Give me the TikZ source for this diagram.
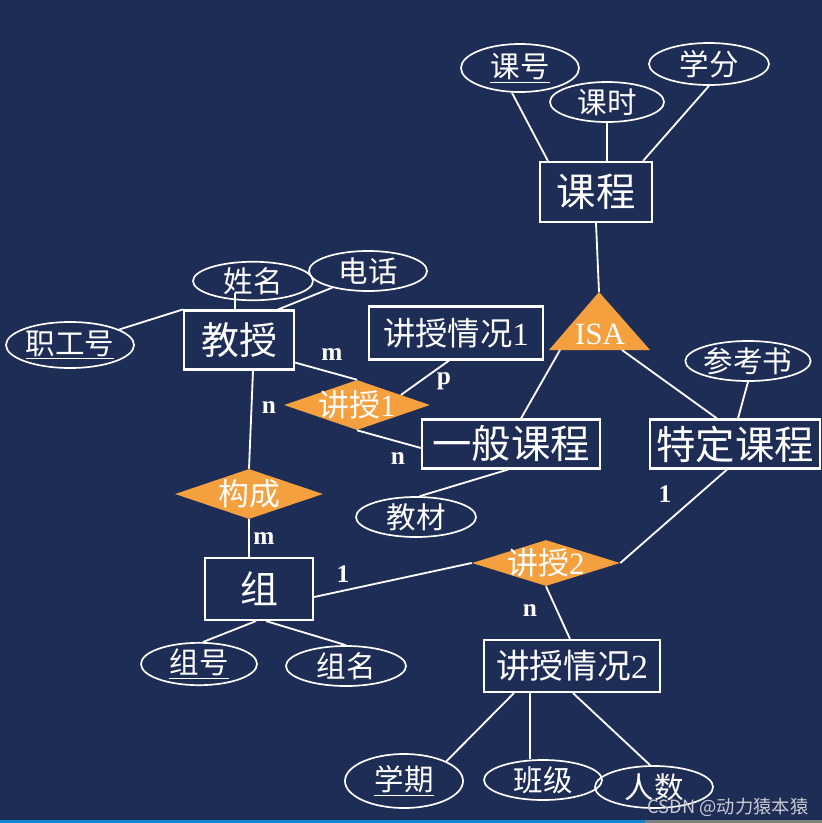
\documentclass[tikz,border=0pt]{standalone}
\usepackage{fontspec}
\setmainfont{Liberation Serif}
\newfontfamily\cjk{Noto Sans CJK SC}
\usetikzlibrary{shapes.geometric}
\usetikzlibrary{calc}
\definecolor{bgnavy}{RGB}{30,45,86}
\definecolor{relorange}{RGB}{245,160,62}
\definecolor{markgray}{RGB}{200,202,212}
\tikzset{
  entity/.style={draw=white, line width=1.5pt, text=white, inner sep=0pt,
    font=\cjk\fontsize{27}{27}\selectfont},
  attrib/.style={ellipse, draw=white, line width=1.2pt, text=white, inner sep=0pt,
    minimum width=2.95cm, minimum height=1cm, font=\cjk\fontsize{21}{21}\selectfont},
  relship/.style={diamond, fill=relorange, text=white, inner sep=-0.2cm, aspect=3,
    minimum width=3.7cm, minimum height=1.25cm, font=\cjk\fontsize{22}{22}\selectfont},
  card/.style={text=white, inner sep=0pt, font=\bfseries\fontsize{18}{18}\selectfont},
  link/.style={white, line width=1.3pt}
}
\begin{document}
\begin{tikzpicture}[x=0.025cm, y=-0.025cm]
\fill[bgnavy] (0,0) rectangle (822,823);
\useasboundingbox (0,0) rectangle (822,823);
\fill[cyan!70!blue] (0,820) rectangle (645,823);
\fill[gray] (645,820) rectangle (822,823);

% entities
\node [entity, minimum width=2.8cm, minimum height=1.5cm, font=\cjk\fontsize{28}{28}\selectfont] (kecheng) at (596,192) {课程};
\node [entity, minimum width=2.75cm, minimum height=1.475cm] (jiaoshou) at (239,340) {教授};
\node [entity, minimum width=4.35cm, minimum height=1.325cm, font=\cjk\fontsize{23}{23}\selectfont] (qk1) at (456,333) {讲授情况{\rmfamily 1}};
\node [entity, minimum width=4.45cm, minimum height=1.225cm, font=\cjk\fontsize{28}{28}\selectfont] (yiban) at (511,444) {一般课程};
\node [entity, minimum width=4.25cm, minimum height=1.225cm, font=\cjk\fontsize{28}{28}\selectfont] (teding) at (735,444) {特定课程};
\node [entity, minimum width=2.7cm, minimum height=1.55cm] (zu) at (259,589) {组};
\node [entity, minimum width=4.4cm, minimum height=1.3cm, font=\cjk\fontsize{24}{24}\selectfont] (qk2) at (572,666) {讲授情况{\rmfamily 2}};

% attributes
\node [attrib, minimum height=1.2cm] (kehao) at (520,68) {\underline{课号}};
\node [attrib, minimum width=2.85cm] (keshi) at (607,102) {课时};
\node [attrib, minimum width=3cm, minimum height=1.05cm] (xuefen) at (709,64) {学分};
\node [attrib, minimum width=3cm, minimum height=0.95cm] (xingming) at (253,281) {姓名};
\node [attrib] (dianhua) at (368,271) {电话};
\node [attrib, minimum width=3.2cm, minimum height=1.15cm] (zhigonghao) at (70,345) {\underline{职工号}};
\node [attrib, minimum width=2.9cm] (cankaoshu) at (748,361) {参考书};
\node [attrib, minimum width=3cm] (jiaocai) at (416,517) {教材};
\node [attrib, minimum width=2.9cm] (zuhao) at (199,664) {\underline{组号}};
\node [attrib, minimum width=3cm] (zuming) at (346,666) {组名};
\node [attrib, minimum height=1.35cm] (xueqi) at (404,781) {\underline{学期}};
\node [attrib] (banji) at (543,780) {班级};
\node [attrib, minimum height=1.05cm] (renshu) at (654,787) {人数};

% relationships
\node [relship, minimum width=3.65cm] (js1) at (357,405) {讲授{\rmfamily 1}};
\node [relship] (goucheng) at (249,494) {构成};
\node [relship, minimum height=1.15cm] (js2) at (546,563) {讲授{\rmfamily 2}};

% ISA triangle
\coordinate (isaA) at (599,292);
\coordinate (isaB) at (650,350);
\coordinate (isaC) at (549,350);
\fill[relorange] (isaA) -- (isaB) -- (isaC) -- cycle;
\node [text=white, inner sep=0pt, font=\fontsize{22}{22}\selectfont] (isa) at (600,334) {ISA};
\coordinate (isaL) at (560,350);
\coordinate (isaR) at (622,350);

% links
\draw [link] ($(kehao.south)+(-8,0)$) -- ($(kecheng.north west)+(9,0)$);
\draw [link] (keshi.south) -- (keshi.south |- kecheng.north);
\draw [link] (xuefen.south) -- ($(kecheng.north east)+(-10,0)$);
\draw [link] (kecheng.south) -- (isaA);
\draw [link] (isaL) -- ($(yiban.north)+(10,0)$);
\draw [link] (isaR) -- ($(teding.north)+(-18,0)$);
\draw [link] (cankaoshu.south) -- ($(teding.north)+(3,0)$);
\draw [link] (zhigonghao) -- (jiaoshou.north west);
\draw [link] ($(jiaoshou.north)+(-4,0)$) -- ($(xingming.south)+(-18,-8)$);
\draw [link] (dianhua.205) -- ($(jiaoshou.north east)+(-17,0)$);
\draw [link] ($(jiaoshou.south east)+(0,-8)$) -- (js1.north);
\draw [link] ($(js1.north)!0.6!(js1.east)$) -- ($(qk1.south)+(-7,0)$);
\draw [link] (js1.south) -- ($(yiban.west)+(0,4)$);
\draw [link] (jiaocai.80) -- ($(yiban.south)+(-3,0)$);
\draw [link] ($(jiaoshou.south)+(14,0)$) -- (goucheng.north);
\draw [link] (goucheng.south) -- (goucheng.south |- zu.north);
\draw [link] ($(zu.south)+(-3,0)$) -- (zuhao.80);
\draw [link] ($(zu.south)+(7,0)$) -- (zuming.north);
\draw [link] ($(zu.east)+(0,8)$) -- (js2.west);
\draw [link] (js2.east) -- ($(teding.south)+(-8,0)$);
\draw [link] (js2.south) -- ($(qk2.north)+(-2,0)$);
\draw [link] ($(qk2.south west)+(31,0)$) -- (xueqi.north east);
\draw [link] ($(qk2.south)+(-42,0)$) coordinate (bj) -- (bj |- banji.north);
\draw [link] ($(qk2.south)+(1,0)$) -- (renshu.100);

% cardinalities
\node [card] (c1) at (332,355) {m};
\node [card] (c2) at (444,381) {p};
\node [card] (c3) at (398,459) {n};
\node [card] (c4) at (269,408) {n};
\node [card] (c5) at (264,539) {m};
\node [card] (c6) at (343,574) {1};
\node [card] (c7) at (665,494) {1};
\node [card] (c8) at (530,611) {n};

\node [text=markgray, inner sep=0pt, font=\cjk\fontsize{13}{13}\selectfont] (mark) at (728,807) {CSDN @动力猿本猿};
\end{tikzpicture}
\end{document}
